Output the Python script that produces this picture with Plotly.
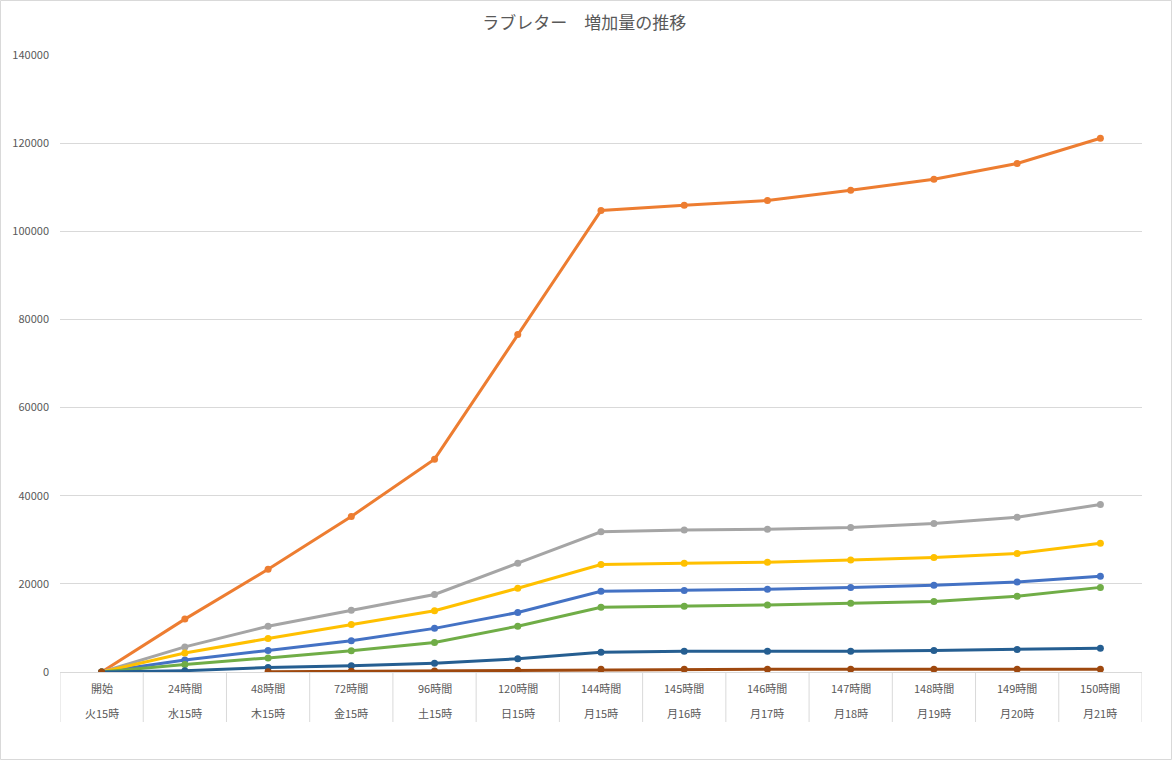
import plotly.graph_objects as go

# ---- data ----
hours_labels = ["開始", "24時間", "48時間", "72時間", "96時間", "120時間", "144時間",
                "145時間", "146時間", "147時間", "148時間", "149時間", "150時間"]
day_labels = ["火15時", "水15時", "木15時", "金15時", "土15時", "日15時", "月15時",
              "月16時", "月17時", "月18時", "月19時", "月20時", "月21時"]

s_blue = [0, 2700, 4900, 7100, 9900, 13500, 18300, 18500, 18800, 19200, 19700, 20400, 21700]
s_orange = [0, 12000, 23300, 35300, 48300, 76600, 104700, 105900, 107000, 109300, 111800, 115400, 121100]
s_gray = [0, 5700, 10400, 14000, 17600, 24700, 31800, 32200, 32400, 32800, 33700, 35100, 38000]
s_yellow = [0, 4300, 7600, 10800, 13900, 19000, 24400, 24700, 24900, 25400, 26000, 26900, 29200]
s_green = [0, 1700, 3200, 4800, 6700, 10400, 14700, 14900, 15200, 15600, 16000, 17200, 19200]
s_navy = [0, 300, 1000, 1400, 2000, 3000, 4500, 4700, 4700, 4700, 4900, 5100, 5400]
s_brown = [0, None, 50, 150, 250, 400, 600, 650, 650, 650, 650, 650, 650]

series = [
    ("系列1", s_blue, "#4472C4"),
    ("系列2", s_orange, "#ED7D31"),
    ("系列3", s_gray, "#A5A5A5"),
    ("系列4", s_yellow, "#FFC000"),
    ("系列5", s_green, "#70AD47"),
    ("系列6", s_navy, "#255E91"),
    ("系列7", s_brown, "#9E480E"),
]

title_text = "ラブレター　増加量の推移"

# ---- layout geometry ----
W, H = 1172, 760
ML, MR, MT, MB = 60, 30, 55, 88
PW, PH = W - ML - MR, H - MT - MB

def py(px_from_top):
    return (H - MB - px_from_top) / PH

def px(px_from_left):
    return (px_from_left - ML) / PW

FONT = "Noto Sans CJK JP, Noto Sans, sans-serif"
idx = list(range(len(hours_labels)))

fig = go.Figure()
for name, vals, color in series:
    fig.add_trace(go.Scatter(
        x=idx, y=vals, mode="lines+markers", name=name,
        line=dict(color=color, width=3),
        marker=dict(color=color, size=7),
        connectgaps=False, showlegend=False,
    ))

annotations = []
for i, (a, b) in enumerate(zip(hours_labels, day_labels)):
    annotations.append(dict(x=i, y=py(688), xref="x", yref="paper", text=a,
                            showarrow=False, yanchor="middle",
                            font=dict(family=FONT, size=11, color="#595959")))
    annotations.append(dict(x=i, y=py(713), xref="x", yref="paper", text=b,
                            showarrow=False, yanchor="middle",
                            font=dict(family=FONT, size=11, color="#595959")))

shapes = []
for i in range(len(hours_labels) + 1):
    shapes.append(dict(type="line", xref="x", yref="paper",
                       x0=i - 0.5, x1=i - 0.5, y0=0, y1=py(722),
                       line=dict(color="#D9D9D9", width=1)))
# outer chart border
shapes.append(dict(type="rect", xref="paper", yref="paper",
                   x0=px(0.5), x1=px(W - 0.5), y0=py(H - 0.5), y1=py(0.5),
                   line=dict(color="#D9D9D9", width=1), layer="below"))

fig.update_layout(
    width=W, height=H,
    margin=dict(l=ML, r=MR, t=MT, b=MB),
    paper_bgcolor="white", plot_bgcolor="white",
    title=dict(text=title_text, x=0.4985, xref="container", xanchor="center",
               y=1 - 23 / H, yanchor="middle",
               font=dict(family=FONT, size=17, color="#595959")),
    xaxis=dict(range=[-0.5, len(hours_labels) - 0.5], showticklabels=False,
               showgrid=False, zeroline=False, showline=True,
               linecolor="#D9D9D9", linewidth=1, ticks=""),
    yaxis=dict(range=[0, 140000], dtick=20000, showgrid=True, gridcolor="#D9D9D9",
               gridwidth=1, zeroline=False, showline=False, ticks="",
               tickfont=dict(family=FONT, size=11, color="#595959"),
               tickformat="d", ticklen=0, ticklabelstandoff=10),
    annotations=annotations,
    shapes=shapes,
    hovermode=False,
)

fig.write_html("out.html")
